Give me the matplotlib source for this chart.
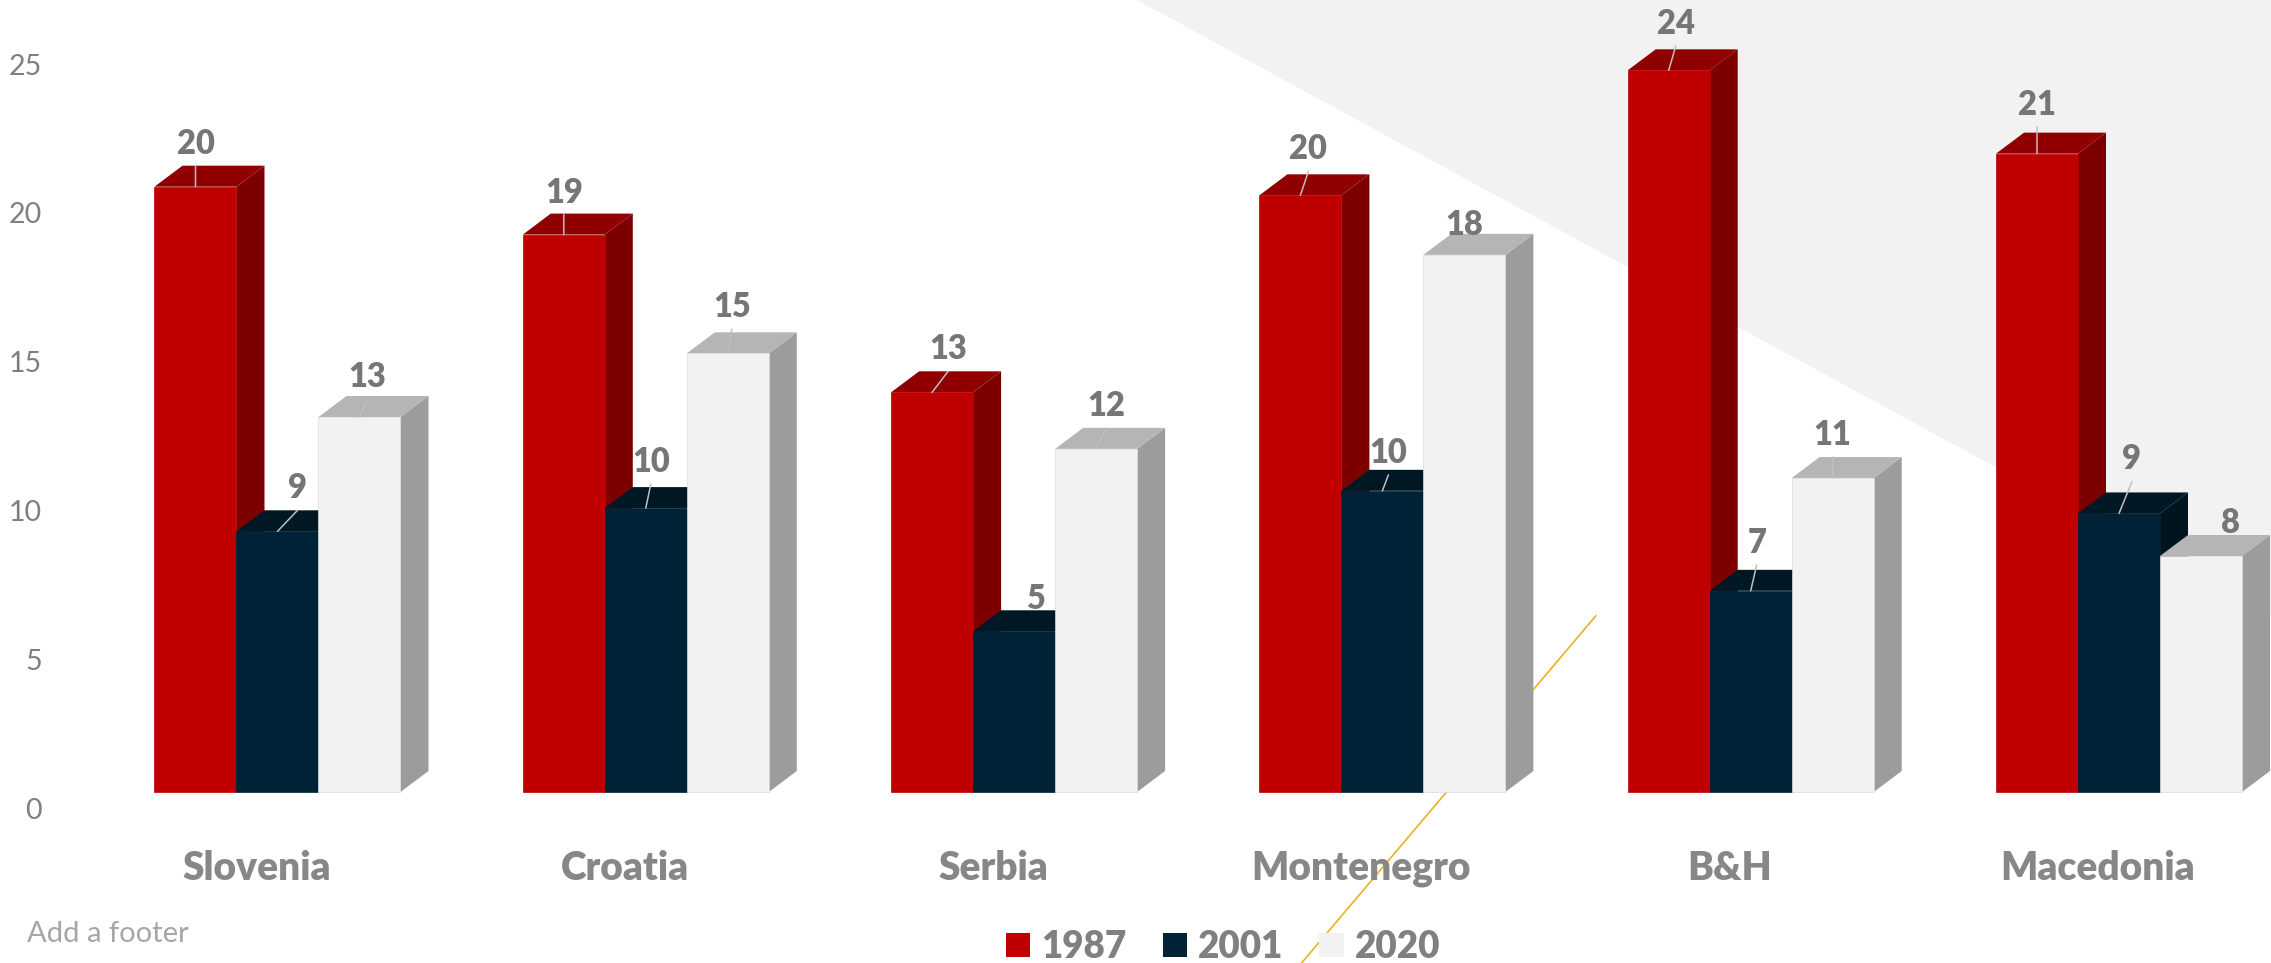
import matplotlib
matplotlib.use('Agg')
import matplotlib.pyplot as plt
from matplotlib.patches import Patch, Polygon

plt.rcParams['font.family'] = ['Lato', 'DejaVu Sans']

countries = ['Slovenia', 'Croatia', 'Serbia', 'Montenegro', 'B&H', 'Macedonia']
years = ['1987', '2001', '2020']
values_1987 = [20.34, 18.73, 13.43, 20.05, 24.25, 21.45]
values_2001 = [8.76, 9.54, 5.4, 10.12, 6.76, 9.36]
values_2020 = [12.6, 14.74, 11.53, 18.05, 10.55, 7.93]
series = [values_1987, values_2001, values_2020]
y_ticks = [0, 5, 10, 15, 20, 25]

# bar colours: front, top, side
front = ['#C00000', '#002236', '#F2F2F2']
top = ['#900000', '#001724', '#B5B5B5']
side = ['#7C0000', '#00141F', '#9C9C9C']
edge = ['#C00000', '#002236', '#DCDCDC']

# label offsets from the middle of the bar top, pixels, per series
label_dx = [[0, 0, 16, 8, 7, 0],
            [20, 5, 22, 6, 6, 13],
            [8, 4, 10, 0, 0, 30]]
label_dy = [[46, 45, 46, 49, 49, 52],
            [46, 49, 35, 41, 51, 57],
            [43, 49, 46, 33, 46, 36]]

W, H = 2271, 963
px_x = 368.3      # pixels between groups
px_y = 29.76      # pixels per unit
x0 = 277.5        # middle of first group
y0 = 792          # bar baseline
bar_w = 82 / px_x
dep_x = 28 / px_x
dep_y = 21 / px_y

fig = plt.figure(figsize=(W / 100, H / 100), dpi=100)
ax = fig.add_axes([0, 0, 1, 1])
xlim = (-x0 / px_x, (W - x0) / px_x)
ylim = ((y0 - H) / px_y, y0 / px_y)
ax.set_xlim(xlim)
ax.set_ylim(ylim)
ax.axis('off')

# background shapes, given in figure fractions
ax.add_patch(Polygon([(1137 / W, 1), (1, 1), (1, 1 - 617 / H)], closed=True,
                     transform=fig.transFigure, color='#F2F2F2', lw=0, zorder=0))
ax.plot([1595.7 / W, 1301.6 / W], [1 - 616 / H, 0], transform=fig.transFigure,
        color='#EDB120', lw=1.2, zorder=1)

for s, vals in enumerate(series):
    for i, v in enumerate(vals):
        left = i + (s - 1.5) * bar_w
        right = left + bar_w
        ax.add_patch(Polygon([(right, 0), (right + dep_x, dep_y), (right + dep_x, v + dep_y), (right, v)],
                             closed=True, fc=side[s], ec='none', zorder=2 + s))
        ax.add_patch(Polygon([(left, v), (left + dep_x, v + dep_y), (right + dep_x, v + dep_y), (right, v)],
                             closed=True, fc=top[s], ec='none', zorder=2 + s))
        ax.bar(left, v, width=bar_w, align='edge', color=front[s], edgecolor=edge[s], linewidth=0.5, zorder=2 + s)

for s, vals in enumerate(series):
    for i, v in enumerate(vals):
        mid = i + (s - 1) * bar_w
        dx, dy = label_dx[s][i], label_dy[s][i]
        if dy >= 39:
            ax.annotate('', xy=(mid, v), xytext=(dx, dy - 25), textcoords='offset pixels',
                        arrowprops=dict(arrowstyle='-', color='#BFBFBF', lw=1.1, shrinkA=0, shrinkB=0),
                        zorder=8)
        ax.annotate(f'{v:.0f}', xy=(mid, v), xytext=(dx, dy - 3), textcoords='offset pixels',
                    ha='center', va='center', fontsize=23.5, fontweight='heavy', color='#767676', zorder=9)

# tick labels sit lower and to the left of the bars, so they get their own axes
tick_ax = fig.add_axes([-21 / W, -16 / H, 1, 1])
tick_ax.set_xlim(xlim)
tick_ax.set_ylim(ylim)
tick_ax.patch.set_visible(False)
for sp in tick_ax.spines.values():
    sp.set_visible(False)
tick_ax.set_xticks(range(len(countries)), countries)
tick_ax.set_yticks(y_ticks)
tick_ax.tick_params(axis='x', length=0, pad=-93, labelsize=28, labelcolor='#878787')
tick_ax.tick_params(axis='y', length=0, pad=-45.5, labelsize=20.5, labelcolor='#7F7F7F')
for lab in tick_ax.get_xticklabels():
    lab.set_fontweight('heavy')

fig.text(27 / W, 1 - 934 / H, 'Add a footer', fontsize=21, color='#A6A6A6', va='center', ha='left')

handles = [Patch(facecolor=c, edgecolor='none') for c in front]
fig.legend(handles, years, ncol=3, frameon=False, loc='center', bbox_to_anchor=(1223 / W, 1 - 947 / H),
           prop={'size': 26.5, 'weight': 'heavy'}, labelcolor='#808080', handlelength=0.66, handleheight=0.66,
           handletextpad=0.3, columnspacing=0.98, borderpad=0, borderaxespad=0)

fig.savefig('out.png', dpi=100)
